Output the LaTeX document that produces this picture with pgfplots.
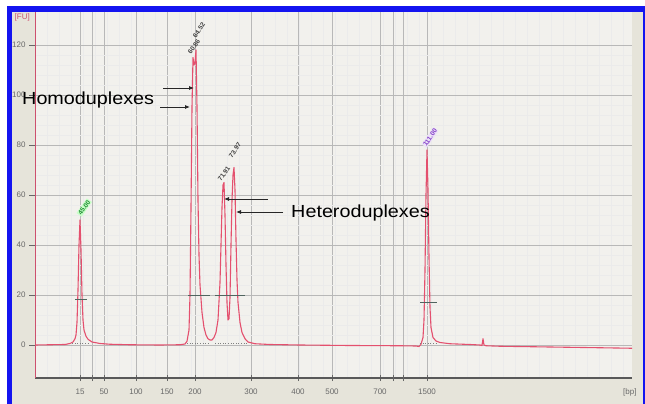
\documentclass[border=0pt]{standalone}
\usepackage{fontspec}
\setmainfont{Liberation Sans}
\usepackage{pgfplots}
\pgfplotsset{compat=1.18}
\usetikzlibrary{arrows.meta}
\definecolor{bgout}{RGB}{230,228,218}
\definecolor{plotbg}{RGB}{242,241,237}
\definecolor{frameblue}{RGB}{20,20,240}
\definecolor{trace}{RGB}{228,80,110}
\definecolor{yaxred}{RGB}{205,80,110}
\definecolor{tickgray}{RGB}{105,105,105}
\definecolor{markgray}{RGB}{80,100,95}
\definecolor{lblgreen}{RGB}{30,140,50}
\definecolor{lblpurple}{RGB}{130,60,200}
\begin{document}
\begin{tikzpicture}
\useasboundingbox (0pt,0pt) rectangle (645pt,404pt);
\fill[white] (0pt,0pt) rectangle (645pt,404pt);
\fill[bgout] (9pt,0pt) rectangle (644pt,395pt);
\node[anchor=east, font=\fontsize{8}{9}\selectfont, text=yaxred, inner sep=0pt] at (30pt,387pt) {[FU]};
\node[anchor=west, font=\fontsize{8}{9}\selectfont, text=tickgray, inner sep=0pt] at (623pt,12pt) {[bp]};
\node[anchor=east, font=\fontsize{7}{8}\selectfont, text=black!70, inner sep=0pt] at (632pt,388.5pt) {Sample 10};
\node[anchor=east, font=\fontsize{7}{8}\selectfont, text=black!70, inner sep=0pt] at (632pt,377.5pt) {val2 b 50Perc.~~40m~~cycles};
\begin{axis}[
 at={(35pt,26pt)}, anchor=south west, scale only axis,
 width=597pt, height=365.5pt,
 xmin=35, xmax=632, ymin=-13.2, ymax=133,
 axis lines=left, axis line style={-},
 x axis line style={draw=black!65, line width=1.6pt},
 y axis line style={draw=yaxred, line width=0.9pt},
 axis background/.style={fill=plotbg},
 xtick={80,104,136,167,195,251,298,332,380,427},
 xticklabels={15,50,100,150,200,300,400,500,700,1500},
 extra x ticks={92,393,403},
 extra x tick labels={},
 extra x tick style={grid=major},
 minor xtick={47,59,...,623},
 ytick={0,20,...,120},
 minor y tick num=4,
 grid=both,
 major grid style={black!28, line width=0.5pt},
 minor grid style={black!8, line width=0.4pt},
 xtick align=center, ytick align=outside,
 major tick length=6pt, minor tick length=0pt,
 tick style={black!60, line width=0.6pt},
 tick label style={font=\fontsize{8}{9}\selectfont, text=tickgray, /pgf/number format/assume math mode=true},
 xticklabel style={yshift=-4pt},
 clip mode=individual,
]
% trace
\addplot[trace, line width=1.1pt, line join=round] coordinates {
(35,0.0)(50,0.1)(65,0.2)(70,0.6)(73,1.2)(75,2.5)(76,4)(77,9)(78,22)(79,40)(80,50)(81,38)(82,20)(83,10)(84,6)(86,3.5)(88,2.3)(92,1.2)(100,0.6)(110,0.3)(130,0.1)(160,0)(180,0.1)(185,0.4)(187,1.5)(189,6)(190,20)(191,55)(192,95)(193,115)(194,112)(195,113)(196,118)(197,95)(198,58)(199,36)(200,24)(202,13)(204,7)(206,4)(208,2.5)(210,2)(212,2)(214,3)(216,5)(218,10)(220,25)(221,40)(222,55)(223,64)(224,65)(225,52)(226,32)(227,17)(228,10)(229,10.5)(230,19)(231,40)(232,58)(233,68)(234,71)(235,62)(236,42)(237,26)(238,17)(240,9)(242,5)(245,2.5)(248,1.2)(255,0.5)(270,0.2)(300,0)(350,-0.2)(400,-0.3)(416,-0.4)(419,-0.6)(421,0.3)(423,3)(424,10)(425,30)(426,60)(427,78)(428,62)(429,35)(430,15)(431,7)(433,3)(436,1.6)(440,1)(450,0.5)(470,0.2)(480,0)(482,-0.2)(483,2.5)(484,0)(486,-0.3)(500,-0.5)(550,-0.8)(600,-1.1)(632,-1.3)
};
% half-height markers
\addplot[markgray, line width=0.8pt] coordinates {(75,18.4)(87,18.4)};
\addplot[markgray, line width=0.8pt] coordinates {(188,20)(210,20)};
\addplot[markgray, line width=0.8pt] coordinates {(215,20)(245,20)};
\addplot[markgray, line width=0.8pt] coordinates {(420,17.2)(437,17.2)};
% baseline markers
\addplot[black!50, dotted, line width=0.6pt] coordinates {(72,0.8)(88,0.8)};
\addplot[black!50, dotted, line width=0.6pt] coordinates {(187,0.8)(210,0.8)};
\addplot[black!50, dotted, line width=0.6pt] coordinates {(215,0.8)(247,0.8)};
\addplot[black!50, dotted, line width=0.6pt] coordinates {(420,0.8)(436,0.8)};
% peak labels
\node[rotate=55, anchor=west, font=\fontsize{6.5}{7}\selectfont\bfseries, text=lblgreen, fill=green!22, inner sep=0.8pt] at (axis cs:79,52) {45.00};
\node[rotate=55, anchor=west, font=\fontsize{6.5}{7}\selectfont\bfseries, text=black!75, inner sep=0.5pt] at (axis cs:189,116.5) {60.86};
\node[rotate=55, anchor=west, font=\fontsize{6.5}{7}\selectfont\bfseries, text=black!75, inner sep=0.5pt] at (axis cs:194,123) {64.52};
\node[rotate=55, anchor=west, font=\fontsize{6.5}{7}\selectfont\bfseries, text=black!75, inner sep=0.5pt] at (axis cs:219,65.5) {71.91};
\node[rotate=55, anchor=west, font=\fontsize{6.5}{7}\selectfont\bfseries, text=black!75, inner sep=0.5pt] at (axis cs:230,75) {73.97};
\node[rotate=55, anchor=west, font=\fontsize{6.5}{7}\selectfont\bfseries, text=lblpurple, fill=lblpurple!15, inner sep=0.8pt] at (axis cs:424,79.5) {111.00};
% annotations
\node[anchor=west, font=\fontsize{17.5}{20}\selectfont, xscale=1.13, inner sep=0pt] at (axis cs:22,98) {Homoduplexes};
\node[anchor=west, font=\fontsize{17.5}{20}\selectfont, xscale=1.13, inner sep=0pt] at (axis cs:291,52.8) {Heteroduplexes};
\draw[-{Latex[length=5pt,width=4pt]}, line width=0.8pt, black!85] (axis cs:163,102.8) -- (axis cs:194,102.8);
\draw[-{Latex[length=5pt,width=4pt]}, line width=0.8pt, black!85] (axis cs:160,95.2) -- (axis cs:190,95.2);
\draw[-{Latex[length=5pt,width=4pt]}, line width=0.8pt, black!85] (axis cs:268,58.4) -- (axis cs:224,58.4);
\draw[-{Latex[length=5pt,width=4pt]}, line width=0.8pt, black!85] (axis cs:283,53.2) -- (axis cs:236,53.2);
\end{axis}
\fill[frameblue] (6.5pt,0pt) rectangle (12pt,397.5pt);
\fill[frameblue] (6.5pt,392pt) rectangle (645pt,397.5pt);
\fill[frameblue] (642.5pt,0pt) rectangle (645pt,397.5pt);
\end{tikzpicture}
\end{document}
